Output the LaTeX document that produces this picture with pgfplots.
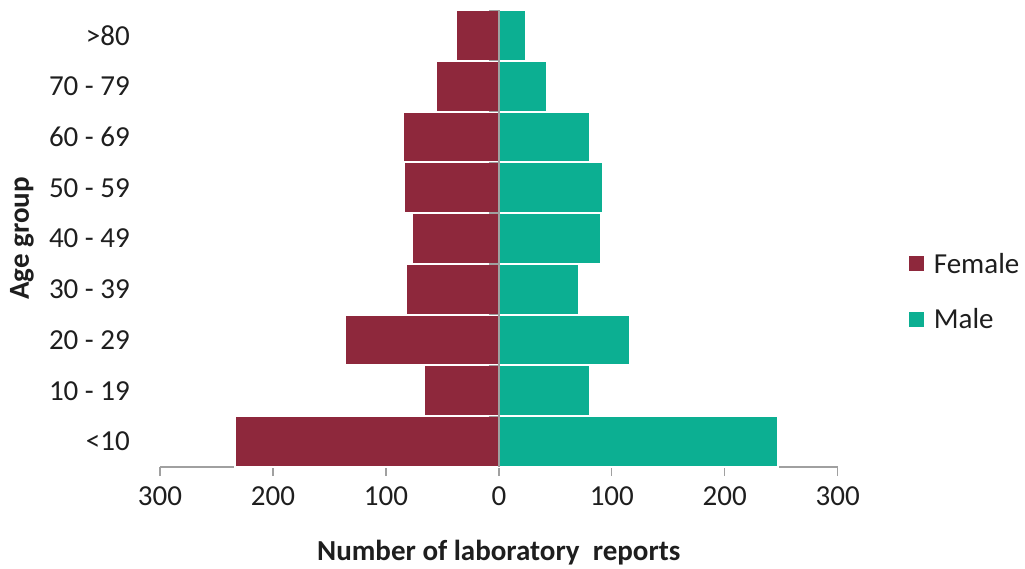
\documentclass[border=0pt]{standalone}
\usepackage{pgfplots}
\usepackage{pgfplotstable}
\pgfplotsset{compat=1.18}
\usepackage{fontspec}
\setmainfont{Carlito}

\definecolor{femalecol}{RGB}{142,40,60}
\definecolor{malecol}{RGB}{12,175,146}
\definecolor{axisgrey}{RGB}{160,160,160}
\definecolor{txt}{RGB}{30,30,30}

% Laboratory reports by age group (female counts stored negative)
\pgfplotstableread{
idx female male
0 -234 247
1  -66  81
2 -136 116
3  -82  71
4  -77  90
5  -84  92
6  -85  81
7  -56  43
8  -38  24
}\agedata

\begin{document}
\begin{tikzpicture}[font=\fontsize{29bp}{34bp}\selectfont, text=txt]
\useasboundingbox (-160bp,-102bp) rectangle (865bp,467bp);
\begin{axis}[
  at={(0,0)}, anchor=south west,
  scale only axis,
  width=677.7bp, height=457bp,
  xmin=-300, xmax=300, ymin=-0.5, ymax=8.5,
  xbar, bar width=1, bar shift=0pt,
  axis x line*=bottom, axis y line*=left,
  x axis line style={axisgrey, line width=1.3bp, -},
  y axis line style={draw=none},
  xtick={-300,-200,-100,0,100,200,300},
  xticklabels={300,200,100,0,100,200,300},
  ytick={0,...,8},
  yticklabels={{<10},{10 - 19},{20 - 29},{30 - 39},{40 - 49},{50 - 59},{60 - 69},{70 - 79},{>80}},
  tick align=outside,
  major tick length=9bp,
  xtick style={axisgrey, line width=1.3bp},
  ytick style={draw=none},
  xticklabel style={text=txt, yshift=-7bp},
  yticklabel style={text=txt, anchor=east, inner sep=0pt, xshift=-21bp},
  xlabel={\bfseries Number of laboratory\ \ reports},
  xlabel style={at={(axis description cs:0.5,0)}, anchor=base, yshift=-93bp, text=txt},
  ylabel={\bfseries Age group},
  ylabel style={at={(axis description cs:-0.1933,0.5)}, anchor=base, text=txt},
  legend style={draw=none, fill=none, at={(1.105,0.384)}, anchor=west,
    inner sep=0pt, outer sep=0pt, row sep=34bp,
    nodes={text=txt, inner sep=0pt}},
  legend cell align=left,
  /tikz/every odd column/.append style={column sep=10bp},
  legend image code/.code={\fill[#1, draw=none] (0bp,-7.5bp) rectangle (15bp,7.5bp);},
]
\addplot[fill=femalecol, draw=white, line width=2bp] table[x=female, y=idx] {\agedata};
\addlegendentry{Female}
\addplot[fill=malecol, draw=white, line width=2bp] table[x=male, y=idx] {\agedata};
\addlegendentry{Male}
% vertical axis at zero with ticks between the age groups
\draw[axisgrey, line width=1.3bp] (axis cs:0,-0.5) -- (axis cs:0,8.5);
\pgfplotsinvokeforeach{0.5,1.5,2.5,3.5,4.5,5.5,6.5,7.5,8.5}{
  \draw[axisgrey, line width=1.3bp] (axis cs:0,#1) -- ++(-10bp,0bp);
}
\end{axis}
\end{tikzpicture}
\end{document}
